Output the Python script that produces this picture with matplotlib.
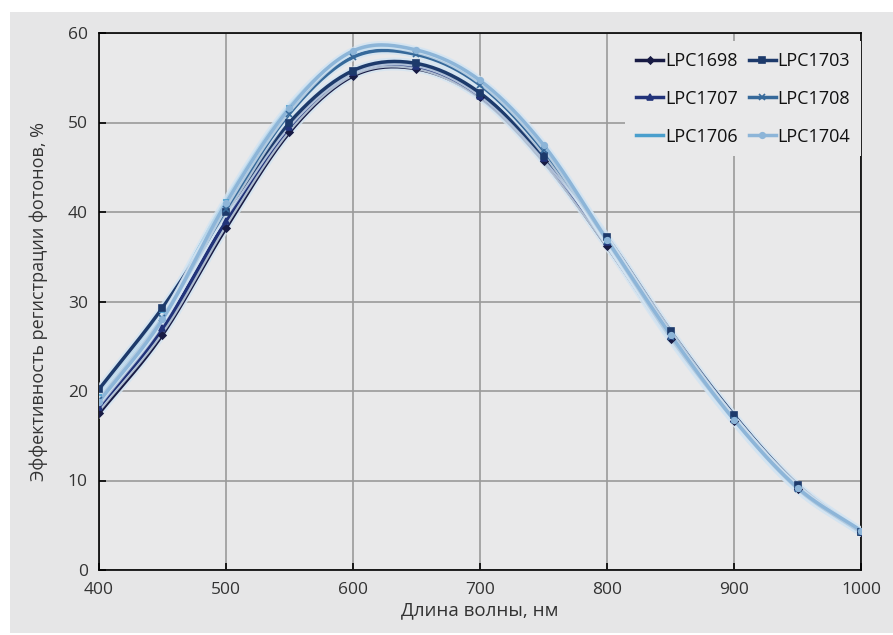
import matplotlib

matplotlib.use("Agg")
import matplotlib.pyplot as plt
import matplotlib.patheffects as pe
import numpy as np
from matplotlib.patches import Rectangle

plt.rcParams["font.family"] = ["Open Sans", "DejaVu Sans"]

# Data
wavelength = [400, 450, 500, 550, 600, 650, 700, 750, 800, 850, 900, 950, 1000]
lpc1698 = [17.5, 26.3, 38.2, 48.9, 55.2, 56.0, 52.8, 45.7, 36.2, 25.8, 16.6, 9.0, 4.2]
lpc1703 = [20.2, 29.3, 40.0, 50.0, 55.8, 56.6, 53.3, 46.3, 37.2, 26.7, 17.3, 9.5, 4.3]
lpc1707 = [18.2, 27.0, 39.0, 49.5, 55.6, 56.3, 53.0, 46.0, 36.6, 26.2, 16.9, 9.2, 4.2]
lpc1708 = [19.0, 28.2, 40.3, 51.0, 57.3, 57.6, 54.2, 46.9, 36.8, 26.0, 16.8, 9.1, 4.2]
lpc1706 = [19.5, 28.8, 41.3, 51.8, 57.8, 58.0, 54.6, 47.3, 36.7, 26.1, 16.7, 9.1, 4.3]
lpc1704 = [18.8, 28.0, 41.0, 51.6, 58.0, 58.1, 54.7, 47.5, 36.9, 26.3, 16.8, 9.2, 4.4]

# legend order (matplotlib fills columns first)
series = [
    ("LPC1698", lpc1698, "#181b44", "D", 3.5),
    ("LPC1707", lpc1707, "#22337a", "^", 5),
    ("LPC1706", lpc1706, "#4a9fcd", "_", 5),
    ("LPC1703", lpc1703, "#1d3a6b", "s", 5),
    ("LPC1708", lpc1708, "#36699a", "x", 4),
    ("LPC1704", lpc1704, "#8db5d8", "o", 4),
]


def smooth(x, y, n=20):
    """Catmull-Rom curve through the points, like a spreadsheet 'smoothed line'."""
    x = np.asarray(x, float)
    y = np.asarray(y, float)
    px = np.concatenate([[2 * x[0] - x[1]], x, [2 * x[-1] - x[-2]]])
    py = np.concatenate([[2 * y[0] - y[1]], y, [2 * y[-1] - y[-2]]])
    t = np.linspace(0, 1, n, endpoint=False)
    outx, outy = [], []
    for i in range(1, len(px) - 2):
        for p, out in ((px, outx), (py, outy)):
            p0, p1, p2, p3 = p[i - 1], p[i], p[i + 1], p[i + 2]
            out.extend(0.5 * (2 * p1 + (-p0 + p2) * t
                              + (2 * p0 - 5 * p1 + 4 * p2 - p3) * t ** 2
                              + (-p0 + 3 * p1 - 3 * p2 + p3) * t ** 3))
    outx.append(x[-1])
    outy.append(y[-1])
    return np.array(outx), np.array(outy)


fig = plt.figure(figsize=(8.93, 6.35), dpi=100, facecolor="white")
fig.add_artist(Rectangle((10 / 893, 2 / 635), 1, 621 / 635,
                         transform=fig.transFigure, facecolor="#e6e6e7",
                         edgecolor="none", zorder=-10))
ax = fig.add_axes([99 / 893, 1 - 570 / 635, 762 / 893, 537 / 635])
ax.set_zorder(1)
ax.set_facecolor("#e9e9ea")

glow = [pe.Stroke(linewidth=5.5, foreground="#d3e4f2", alpha=0.8), pe.Normal()]
handles = []
for name, vals, color, marker, ms in series:
    sx, sy = smooth(wavelength, vals)
    ax.plot(sx, sy, color=color, lw=2.5, path_effects=glow, zorder=3)
    ax.plot(wavelength, vals, ls="none", marker=marker, ms=ms, color=color,
            mew=1.2, zorder=4)
    h, = ax.plot([], [], color=color, lw=2.5, marker=marker, ms=ms, mew=1.2)
    handles.append((h, name))

ax.set_xlim(400, 1000)
ax.set_ylim(0, 60)
ax.set_xticks(range(400, 1001, 100))
ax.set_yticks(range(0, 61, 10))
ax.grid(True, color="#9a9a9a", lw=1.2, zorder=1)
ax.set_axisbelow(True)
for s in ax.spines.values():
    s.set_color("black")
    s.set_linewidth(1.2)
ax.tick_params(direction="in", length=5, width=1.2, labelsize=12.5,
               colors="black")
ax.tick_params(axis="y", pad=8)
ax.tick_params(axis="x", pad=9)
for lab in ax.get_xticklabels() + ax.get_yticklabels():
    lab.set_color("#333333")

ax.set_xlabel("Длина волны, нм", fontsize=13.5, color="#333333", labelpad=2)
ax.set_ylabel("Эффективность регистрации фотонов, %", fontsize=13,
              color="#333333", labelpad=14)

leg = ax.legend([h for h, _ in handles], [n for _, n in handles], ncol=2,
                loc="upper right", bbox_to_anchor=(1.0, 0.985), frameon=True,
                facecolor="#e9e9ea", edgecolor="none", framealpha=1,
                fontsize=13, handlelength=1.5, handletextpad=0.1,
                columnspacing=0.6, labelspacing=1.1, borderpad=0.6,
                borderaxespad=0.0, fancybox=False)
leg.set_zorder(5)
for t in leg.get_texts():
    t.set_color("#111111")

fig.savefig("out.png", dpi=100, facecolor=fig.get_facecolor())
